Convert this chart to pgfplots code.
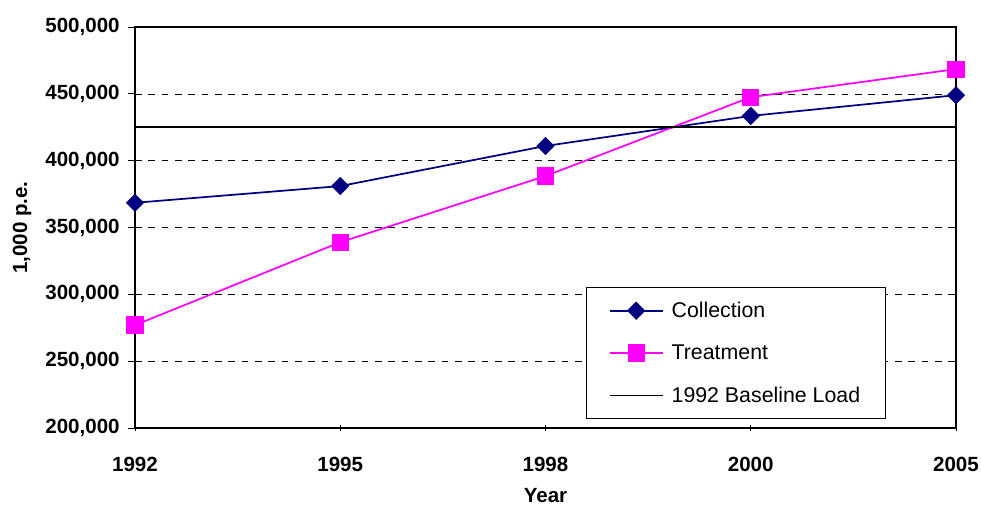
\documentclass[border=0pt]{standalone}
\usepackage{fontspec}
\setmainfont{Liberation Sans}
\usepackage{pgfplots}
\pgfplotsset{compat=1.18}
\definecolor{navyc}{RGB}{0,0,128}
\definecolor{magc}{RGB}{255,0,255}
\begin{document}
\begin{tikzpicture}
\useasboundingbox (-101.25pt,-59.25pt) rectangle (634.5pt,321pt);
\begin{axis}[
  at={(0pt,0pt)}, anchor=south west,
  scale only axis, width=615.75pt, height=300.75pt,
  xmin=0, xmax=4, ymin=200000, ymax=500000,
  xtick={0,1,2,3,4}, xticklabels={1992,1995,1998,2000,2005},
  ytick={200000,250000,300000,350000,400000,450000,500000},
  scaled y ticks=false,
  /pgf/number format/fixed,
  /pgf/number format/precision=0,
  /pgf/number format/1000 sep={,},
  /pgf/number format/assume math mode=true,
  tick label style={font=\bfseries\fontsize{15.4}{17}\selectfont},
  xtick align=center, ytick align=outside,
  xtick pos=bottom, ytick pos=left,
  tick style={black, line width=0.6pt},
  major tick length=5pt,
  ymajorgrids,
  grid style={black, line width=0.5pt, dash pattern=on 5pt off 5pt},
  axis line style={black, line width=1pt},
  clip=false,
  xlabel={\bfseries Year}, ylabel={\bfseries 1,000 p.e.},
  label style={font=\bfseries\fontsize{15.4}{17}\selectfont},
  xlabel style={at={(axis description cs:0.5,-0.168)}, anchor=center, inner sep=0pt},
  ylabel style={at={(axis description cs:-0.1376,0.5)}, anchor=center},
  xticklabel style={yshift=-16pt},
  yticklabel style={xshift=-3pt},
  legend style={at={(axis description cs:0.549,0.352)}, anchor=north west,
    draw=black, line width=0.6pt, fill=white,
    font=\fontsize{16}{19}\selectfont,
    inner xsep=17pt, inner ysep=9pt, row sep=15pt,
    /tikz/every odd column/.append style={column sep=4pt}},
  legend cell align=left,
  legend image code/.code={\draw[mark repeat=2,mark phase=2,#1] plot coordinates {(0cm,0cm) (0.7cm,0cm) (1.4cm,0cm)};},
]
\addplot[navyc, line width=1.3pt, mark=square*, mark size=4.2pt, mark options={rotate=45, solid, fill=navyc}]
  coordinates {(0,368500) (1,381000) (2,411000) (3,433500) (4,449000)};
\addlegendentry{Collection}
\addplot[magc, line width=1.3pt, mark=square*, mark size=5.8pt, mark options={solid, fill=magc}]
  coordinates {(0,277000) (1,339000) (2,388500) (3,447500) (4,468500)};
\addlegendentry{Treatment}
\addplot[black, line width=1.2pt] coordinates {(0,425000) (4,425000)};
\addlegendentry{1992 Baseline Load}
\end{axis}
\end{tikzpicture}
\end{document}
